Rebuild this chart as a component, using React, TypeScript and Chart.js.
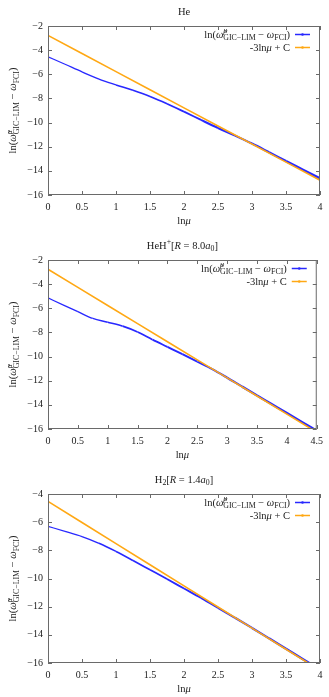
import React, { useEffect, useRef } from "react";
import { Chart, registerables } from "chart.js";
Chart.register(...registerables);

// ---------- data ----------
// He
const heX = [0, 0.25, 0.5, 0.75, 1.0, 1.25, 1.5, 1.75, 2.0, 2.25, 2.5, 2.75, 3.0, 3.25, 3.5, 3.75, 4.0];
const heLog = [-4.55, -5.17, -5.8, -6.4, -6.88, -7.33, -7.84, -8.44, -9.1, -9.78, -10.45, -11.08, -11.74, -12.46, -13.19, -13.91, -14.63];
const heFitX = [0, 0.5, 1, 1.5, 2, 2.5, 3, 3.5, 4];
const heFit = [-2.78, -4.28, -5.78, -7.28, -8.78, -10.28, -11.78, -13.28, -14.78];

// HeH+ [R = 8.0 a0]
const hehX = [0, 0.25, 0.5, 0.75, 1.0, 1.25, 1.5, 1.75, 2.0, 2.25, 2.5, 2.75, 3.0, 3.25, 3.5, 3.75, 4.0, 4.25, 4.5];
const hehLog = [-5.14, -5.72, -6.28, -6.84, -7.15, -7.48, -7.96, -8.6, -9.2, -9.8, -10.42, -11.04, -11.75, -12.49, -13.22, -13.95, -14.68, -15.42, -16.15];
const hehFitX = [0, 0.5, 1, 1.5, 2, 2.5, 3, 3.5, 4, 4.5];
const hehFit = [-2.77, -4.27, -5.77, -7.27, -8.77, -10.27, -11.77, -13.27, -14.77, -16.27];

// H2 [R = 1.4 a0]
const h2X = [0, 0.25, 0.5, 0.75, 1.0, 1.25, 1.5, 1.75, 2.0, 2.25, 2.5, 2.75, 3.0, 3.25, 3.5, 3.75, 4.0];
const h2Log = [-6.3, -6.65, -7.02, -7.5, -8.08, -8.72, -9.38, -10.04, -10.71, -11.38, -12.08, -12.79, -13.51, -14.25, -14.99, -15.73, -16.47];
const h2FitX = [0, 0.5, 1, 1.5, 2, 2.5, 3, 3.5, 4];
const h2Fit = [-4.52, -6.02, -7.52, -9.02, -10.52, -12.02, -13.52, -15.02, -16.52];

// axes
const heXRange = [0, 4];
const hehXRange = [0, 4.5];
const h2XRange = [0, 4];
const heYRange = [-16, -2];
const hehYRange = [-16, -2];
const h2YRange = [-16, -4];
const xStep = 0.5;
const yStep = 2;

// ---------- rich text ----------
const FONT = '"Liberation Serif", "Times New Roman", serif';
type Seg = { t: string; s?: "sub" | "sup"; it?: boolean; stack?: boolean };

function fontFor(s: Seg, base: number) {
  const size = s.s ? base * 0.75 : base;
  return `${s.it ? "italic " : ""}${size}px ${FONT}`;
}
function layoutRich(ctx: CanvasRenderingContext2D, segs: Seg[], base: number) {
  let x = 0;
  let pending = 0;
  const items: { s: Seg; x: number }[] = [];
  for (const s of segs) {
    ctx.font = fontFor(s, base);
    const w = ctx.measureText(s.t).width;
    items.push({ s, x });
    if (s.stack) pending = w;
    else {
      x += Math.max(w, pending);
      pending = 0;
    }
  }
  return { items, width: x };
}
function drawRich(ctx: CanvasRenderingContext2D, segs: Seg[], x: number, y: number, base: number, align: "left" | "center" | "right") {
  const { items, width } = layoutRich(ctx, segs, base);
  const x0 = align === "center" ? x - width / 2 : align === "right" ? x - width : x;
  ctx.textAlign = "left";
  ctx.textBaseline = "alphabetic";
  for (const it of items) {
    ctx.font = fontFor(it.s, base);
    const dy = it.s.s === "sup" ? -base * 0.42 : it.s.s === "sub" ? base * 0.28 : 0;
    ctx.fillText(it.s.t, x0 + it.x, y + dy);
  }
}

const errLabel: Seg[] = [
  { t: "ln(" },
  { t: "ω\u0303", it: true },
  { t: "μ", s: "sup", it: true, stack: true },
  { t: "GIC−LIM", s: "sub" },
  { t: " − " },
  { t: "ω", it: true },
  { t: "FCI", s: "sub" },
  { t: ")" },
];
const xLabel: Seg[] = [{ t: "ln" }, { t: "μ", it: true }];
const fitLabel: Seg[] = [{ t: "-3ln" }, { t: "μ", it: true }, { t: " + C" }];

const heTitle: Seg[] = [{ t: "He" }];
const hehTitle: Seg[] = [
  { t: "HeH" }, { t: "+", s: "sup" }, { t: "[" }, { t: "R", it: true }, { t: " = 8.0" },
  { t: "a", it: true }, { t: "0", s: "sub" }, { t: "]" },
];
const h2Title: Seg[] = [
  { t: "H" }, { t: "2", s: "sub" }, { t: "[" }, { t: "R", it: true }, { t: " = 1.4" },
  { t: "a", it: true }, { t: "0", s: "sub" }, { t: "]" },
];

const BLUE = "rgb(40,40,255)";
const ORANGE = "rgb(255,168,20)";

type Panel = {
  title: Seg[];
  xs: number[];
  ys: number[];
  fx: number[];
  fy: number[];
  xr: number[];
  yr: number[];
  h: number;
};

const panels: Panel[] = [
  { title: heTitle, xs: heX, ys: heLog, fx: heFitX, fy: heFit, xr: heXRange, yr: heYRange, h: 234 },
  { title: hehTitle, xs: hehX, ys: hehLog, fx: hehFitX, fy: hehFit, xr: hehXRange, yr: hehYRange, h: 234 },
  { title: h2Title, xs: h2X, ys: h2Log, fx: h2FitX, fy: h2Fit, xr: h2XRange, yr: h2YRange, h: 229 },
];

function makeDeco(p: Panel) {
  return {
    id: "deco",
    afterDatasetsDraw(chart: any) {
      const { ctx, chartArea: a, scales } = chart;
      ctx.save();
      // border
      ctx.strokeStyle = "#6a6a6a";
      ctx.lineWidth = 1;
      ctx.strokeRect(a.left + 0.5, a.top + 0.5, a.right - a.left - 1, a.bottom - a.top - 1);
      // inward ticks (mirrored)
      ctx.beginPath();
      for (const t of scales.x.ticks) {
        const px = Math.round(scales.x.getPixelForValue(t.value)) + 0.5;
        ctx.moveTo(px, a.bottom);
        ctx.lineTo(px, a.bottom - 4);
        ctx.moveTo(px, a.top);
        ctx.lineTo(px, a.top + 4);
      }
      for (const t of scales.y.ticks) {
        const py = Math.round(scales.y.getPixelForValue(t.value)) + 0.5;
        ctx.moveTo(a.left, py);
        ctx.lineTo(a.left + 4, py);
        ctx.moveTo(a.right, py);
        ctx.lineTo(a.right - 4, py);
      }
      ctx.stroke();

      ctx.fillStyle = "#1a1a1a";
      const cx = (a.left + a.right) / 2;
      // title
      drawRich(ctx, p.title, cx, 14.5, 10.5, "center");
      // x label
      drawRich(ctx, xLabel, cx, a.bottom + 28.5, 10.5, "center");
      // y label
      ctx.save();
      ctx.translate(16, (a.top + a.bottom) / 2);
      ctx.rotate(-Math.PI / 2);
      drawRich(ctx, errLabel, 0, 0, 10.5, "center");
      ctx.restore();

      // legend
      const rows = [
        { segs: errLabel, color: BLUE, y: a.top + 8 },
        { segs: fitLabel, color: ORANGE, y: a.top + 21 },
      ];
      for (const r of rows) {
        ctx.fillStyle = "#1a1a1a";
        drawRich(ctx, r.segs, a.right - 30, r.y + 3.5, 10.5, "right");
        ctx.strokeStyle = r.color;
        ctx.lineWidth = 1.5;
        ctx.beginPath();
        ctx.moveTo(a.right - 25, r.y + 0.5);
        ctx.lineTo(a.right - 10, r.y + 0.5);
        ctx.stroke();
        ctx.fillStyle = r.color;
        ctx.beginPath();
        ctx.arc(a.right - 17.5, r.y + 0.5, 1.3, 0, Math.PI * 2);
        ctx.fill();
      }
      ctx.restore();
    },
  };
}

function PanelChart({ p }: { p: Panel }) {
  const ref = useRef<HTMLCanvasElement | null>(null);
  useEffect(() => {
    if (!ref.current) return;
    const tickFont = { family: FONT, size: 10 };
    const chart = new Chart(ref.current, {
      type: "line",
      data: {
        datasets: [
          {
            label: "err",
            data: p.xs.map((x, i) => ({ x, y: p.ys[i] })),
            borderColor: BLUE,
            backgroundColor: BLUE,
            borderWidth: 1.3,
            pointRadius: 0,
            cubicInterpolationMode: "monotone",
            order: 2,
            segment: {
              borderWidth: (c: any) => Math.min(2.4, 1.2 + 0.35 * c.p0.parsed.x),
            },
          } as any,
          {
            label: "fit",
            data: p.fx.map((x, i) => ({ x, y: p.fy[i] })),
            borderColor: ORANGE,
            backgroundColor: ORANGE,
            borderWidth: 1.6,
            pointRadius: 0,
            tension: 0,
            order: 1,
          },
        ],
      },
      options: {
        animation: false,
        responsive: false,
        devicePixelRatio: 1,
        layout: { padding: { top: 26, left: 0, right: 9, bottom: 0 } },
        plugins: {
          legend: { display: false },
          title: { display: false },
          tooltip: { enabled: false },
        },
        scales: {
          x: {
            type: "linear",
            min: p.xr[0],
            max: p.xr[1],
            grid: { display: false, drawTicks: false },
            border: { display: false },
            ticks: {
              stepSize: xStep,
              padding: 6,
              font: tickFont,
              color: "#1a1a1a",
              maxRotation: 0,
              autoSkip: false,
              callback: (v: any) => String(Math.round(Number(v) * 100) / 100),
            },
            afterFit: (s: any) => {
              s.height = p.h - 195;
            },
          },
          y: {
            type: "linear",
            min: p.yr[0],
            max: p.yr[1],
            grid: { display: false, drawTicks: false },
            border: { display: false },
            ticks: {
              stepSize: yStep,
              padding: 5,
              font: tickFont,
              color: "#1a1a1a",
              callback: (v: any) => String(Math.round(Number(v))).replace("-", "−"),
            },
            afterFit: (s: any) => {
              s.width = 48;
            },
          },
        },
      } as any,
      plugins: [makeDeco(p)],
    });
    return () => chart.destroy();
  }, [p]);
  return <canvas ref={ref} width={329} height={p.h} style={{ display: "block", width: 329, height: p.h }} />;
}

export default function App() {
  return (
    <div style={{ position: "absolute", left: 0, top: 0, width: 329, height: 697, background: "#fff", overflow: "hidden" }}>
      {panels.map((p, i) => (
        <PanelChart key={i} p={p} />
      ))}
    </div>
  );
}
